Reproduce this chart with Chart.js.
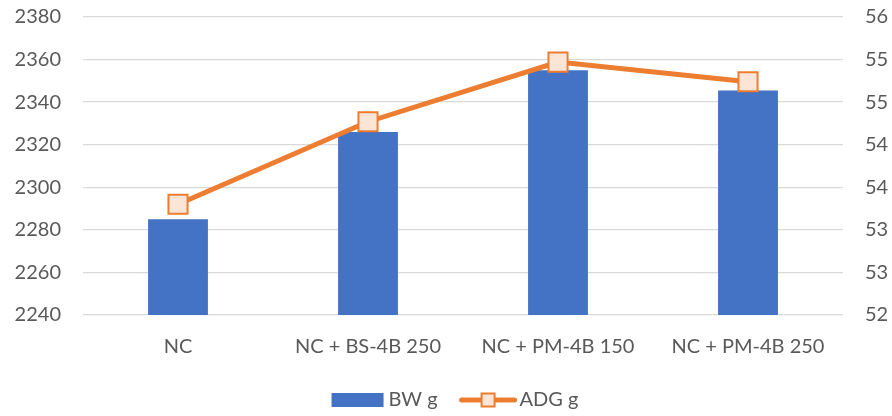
<!DOCTYPE html>
<html>
<head>
<meta charset="utf-8">
<script src="https://cdn.jsdelivr.net/npm/chart.js@4"></script>
<style>
  html, body { margin: 0; padding: 0; background: #fff; }
  #wrap { width: 892px; height: 416px; }
</style>
</head>
<body>
<div id="wrap"><canvas id="growthChart"></canvas></div>
<script>
// Treatments and results
const groups = ['NC', 'NC + BS-4B 250', 'NC + PM-4B 150', 'NC + PM-4B 250'];
const bodyWeight = [2285, 2326, 2355, 2345.5];   // BW g (left axis)
const dailyGain = [53.3, 54.27, 54.97, 54.74];   // ADG g (right axis)

// Axis ranges: min, max, step
const bwAxis = [2240, 2380, 20];
const adgAxis = [52, 55.5, 0.5];

const blue = '#4472C4';
const orange = '#ED7D31';
const peach = '#FBE5D6';
const textGrey = '#595959';
const fontFamily = 'Lato, "Open Sans", sans-serif';
const font = { family: fontFamily, size: 20 };

// Fixed widths for the value axes, and less room above the top tick
function sideAxisFit(width) {
    return scale => {
        scale.width = width;
        scale.paddingTop = 17;
    };
}

// Legend drawn by hand: bar swatch, then line with square marker
const bottomLegend = {
    id: 'bottomLegend',
    afterDraw(chart) {
        const g = chart.ctx;
        const ds = chart.data.datasets;
        const y = 400;
        g.save();
        g.font = `${font.size}px ${fontFamily}`;
        g.textBaseline = 'middle';
        g.fillStyle = textGrey;
        const w0 = g.measureText(ds[0].label).width;
        const w1 = g.measureText(ds[1].label).width;
        const total = 52 + 5 + w0 + 22 + 57 + 3 + w1;
        let x = 455 - total / 2;

        g.fillStyle = ds[0].backgroundColor;
        g.fillRect(x, y - 7, 52, 14);
        x += 57;
        g.fillStyle = textGrey;
        g.fillText(ds[0].label, x, y);
        x += w0 + 22;

        g.strokeStyle = ds[1].borderColor;
        g.lineWidth = 5;
        g.lineCap = 'round';
        g.beginPath();
        g.moveTo(x + 2, y);
        g.lineTo(x + 55, y);
        g.stroke();
        g.fillStyle = ds[1].pointBackgroundColor;
        g.lineWidth = 2;
        g.fillRect(x + 22, y - 6.5, 13, 13);
        g.strokeRect(x + 22, y - 6.5, 13, 13);
        x += 60;
        g.fillStyle = textGrey;
        g.fillText(ds[1].label, x, y);
        g.restore();
    }
};

const ctx = document.getElementById('growthChart').getContext('2d');
const growthChart = new Chart(ctx, {
    data: {
        labels: groups,
        datasets: [{
            type: 'bar',
            label: 'BW g',
            data: bodyWeight,
            backgroundColor: blue,
            yAxisID: 'y',
            barPercentage: 1,
            categoryPercentage: 0.315,
            order: 1
        }, {
            type: 'line',
            label: 'ADG g',
            data: dailyGain,
            borderColor: orange,
            borderWidth: 5,
            tension: 0,
            pointStyle: 'rect',
            pointRadius: 13.5,
            pointHoverRadius: 13.5,
            pointBackgroundColor: peach,
            pointBorderColor: orange,
            pointBorderWidth: 2,
            yAxisID: 'y1',
            order: 0
        }]
    },
    options: {
        responsive: true,
        maintainAspectRatio: false,
        animation: false,
        layout: {
            padding: { top: 0, left: 0, right: 0, bottom: 39 }
        },
        plugins: {
            tooltip: { enabled: false },
            legend: { display: false }
        },
        scales: {
            x: {
                grid: { display: false, drawTicks: false },
                border: { display: false },
                ticks: { color: textGrey, font: font, padding: 20, maxRotation: 0 },
                afterFit: scale => { scale.height = 62; }
            },
            y: {
                position: 'left',
                min: bwAxis[0],
                max: bwAxis[1],
                ticks: {
                    stepSize: bwAxis[2],
                    color: textGrey,
                    font: font,
                    padding: 22,
                    callback: v => String(v)
                },
                grid: { color: '#D9D9D9', lineWidth: 1.3, drawTicks: false },
                border: { display: false },
                afterFit: sideAxisFit(83)
            },
            y1: {
                position: 'right',
                min: adgAxis[0],
                max: adgAxis[1],
                ticks: {
                    stepSize: adgAxis[2],
                    color: textGrey,
                    font: font,
                    padding: 22,
                    callback: v => String(Math.round(v))
                },
                grid: { display: false, drawTicks: false },
                border: { display: false },
                afterFit: sideAxisFit(49)
            }
        }
    },
    plugins: [bottomLegend]
});
</script>
</body>
</html>
